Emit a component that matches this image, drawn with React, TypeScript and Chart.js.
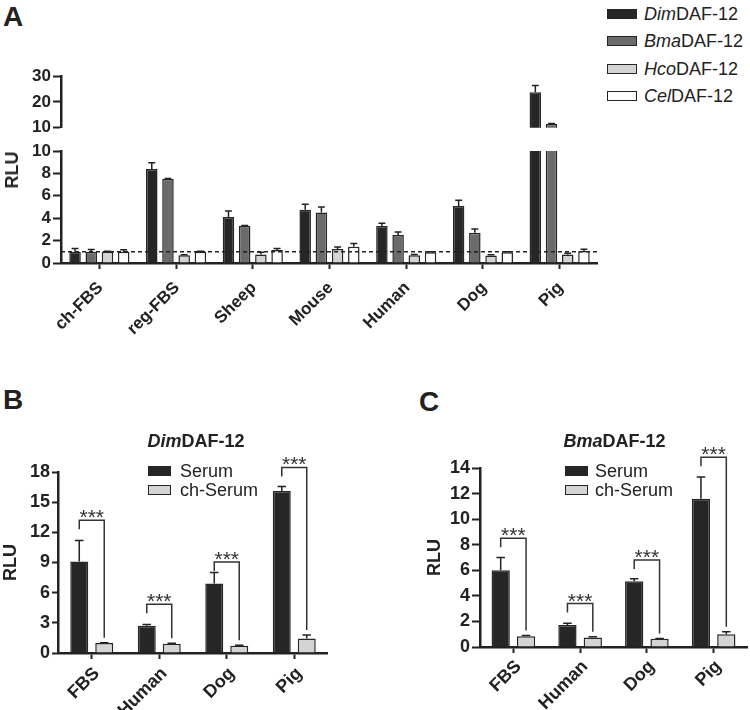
import React, { useEffect, useRef } from 'react';
import { Chart, registerables } from 'chart.js';

Chart.register(...registerables);

const FONT = "'Liberation Sans', Arial, Helvetica, sans-serif";
const INK = '#222222';

// ---------- Panel A data ----------
const sourcesA = ['ch-FBS', 'reg-FBS', 'Sheep', 'Mouse', 'Human', 'Dog', 'Pig'];
const receptorsA = ['Dim', 'Bma', 'Hco', 'Cel'];
const dimA = [1.0, 8.4, 4.1, 4.75, 3.3, 5.1, 23.7];
const dimAErr = [0.3, 0.55, 0.55, 0.5, 0.25, 0.5, 2.6];
const bmaA = [1.0, 7.5, 3.3, 4.5, 2.5, 2.7, 11.5];
const bmaAErr = [0.2, 0.05, 0.05, 0.5, 0.27, 0.33, 0.2];
const hcoA = [1.0, 0.7, 0.75, 1.25, 0.7, 0.68, 0.75];
const hcoAErr = [0.05, 0.04, 0.2, 0.18, 0.05, 0.05, 0.12];
const celA = [1.0, 1.0, 1.15, 1.45, 0.96, 0.96, 1.07];
const celAErr = [0.18, 0.04, 0.15, 0.3, 0.04, 0.04, 0.15];
const baselineA = 1;
const axisBreakA = 10;
const upperMaxA = 30;
const ticksALower = [0, 2, 4, 6, 8, 10];
const ticksAUpper = [10, 20, 30];

// ---------- Panels B / C data ----------
const sourcesBC = ['FBS', 'Human', 'Dog', 'Pig'];
const treatmentsBC = ['Serum', 'ch-Serum'];
const dimSerum = [9.1, 2.7, 6.9, 16.1];
const dimSerumErr = [2.1, 0.13, 1.1, 0.45];
const dimCh = [1.0, 0.92, 0.72, 1.45];
const dimChErr = [0.03, 0.05, 0.05, 0.33];
const dimBrackets = [13.2, 4.85, 9.05, 18.45];
const ticksB = [0, 3, 6, 9, 12, 15, 18];
const bmaSerum = [6.0, 1.72, 5.15, 11.6];
const bmaSerumErr = [1.0, 0.14, 0.18, 1.7];
const bmaCh = [0.85, 0.75, 0.65, 1.0];
const bmaChErr = [0.05, 0.05, 0.02, 0.2];
const bmaBrackets = [8.5, 3.4, 6.8, 14.85];
const ticksC = [0, 2, 4, 6, 8, 10, 12, 14];
const sigLabel = '***';

const COLORS = { dim: '#262626', bma: '#6b6b6b', hco: '#d4d4d4', cel: '#ffffff' };

// ---------- plugins ----------
const errorBarPlugin = {
  id: 'errorBars',
  afterDatasetsDraw(chart: any) {
    const ctx = chart.ctx;
    const y = chart.scales.y;
    chart.data.datasets.forEach((ds: any, i: number) => {
      if (!ds.errors) return;
      const meta = chart.getDatasetMeta(i);
      meta.data.forEach((bar: any, j: number) => {
        const v = ds.data[j];
        const e = ds.errors[j];
        if (v == null || e == null || v > y.max) return;
        const top = y.getPixelForValue(v + e);
        const half = Math.min(bar.width * 0.3, 4.25);
        ctx.save();
        ctx.strokeStyle = INK;
        ctx.lineWidth = 1.5;
        ctx.beginPath();
        ctx.moveTo(bar.x, bar.y);
        ctx.lineTo(bar.x, top);
        ctx.moveTo(bar.x - half, top);
        ctx.lineTo(bar.x + half, top);
        ctx.stroke();
        ctx.restore();
      });
    });
  },
};

const refLinePlugin = {
  id: 'refLine',
  afterDatasetsDraw(chart: any, _args: any, opts: any) {
    if (opts == null || opts.value == null) return;
    const ctx = chart.ctx;
    const { left, right } = chart.chartArea;
    const yy = chart.scales.y.getPixelForValue(opts.value);
    ctx.save();
    ctx.strokeStyle = INK;
    ctx.lineWidth = 1.5;
    ctx.setLineDash([4, 3]);
    ctx.beginPath();
    ctx.moveTo(left, yy);
    ctx.lineTo(right, yy);
    ctx.stroke();
    ctx.restore();
  },
};

const bracketPlugin = {
  id: 'sigBrackets',
  afterDraw(chart: any, _args: any, opts: any) {
    if (!opts || !opts.tops) return;
    const ctx = chart.ctx;
    const y = chart.scales.y;
    const m0 = chart.getDatasetMeta(0);
    const m1 = chart.getDatasetMeta(1);
    const d1 = chart.data.datasets[1];
    opts.tops.forEach((t: number, j: number) => {
      const xl = m0.data[j].x;
      const xr = m1.data[j].x;
      const yt = y.getPixelForValue(t);
      const yl = yt + 9;
      const yr = y.getPixelForValue(d1.data[j] + (d1.errors ? d1.errors[j] : 0)) - 5;
      ctx.save();
      ctx.strokeStyle = '#333';
      ctx.lineWidth = 1.5;
      ctx.beginPath();
      ctx.moveTo(xl, yl);
      ctx.lineTo(xl, yt);
      ctx.lineTo(xr, yt);
      ctx.lineTo(xr, yr);
      ctx.stroke();
      ctx.fillStyle = '#333';
      ctx.font = `21px ${FONT}`;
      ctx.textAlign = 'center';
      ctx.textBaseline = 'alphabetic';
      ctx.fillText(opts.label, (xl + xr) / 2, yt + 4);
      ctx.restore();
    });
  },
};

// ---------- helpers ----------
function yScale(min: number, max: number, tickValues: number[], width: number, tickLen: number, fontSize: number, title?: any) {
  return {
    min,
    max,
    afterBuildTicks: (s: any) => {
      s.ticks = tickValues.map((v) => ({ value: v }));
    },
    ticks: { autoSkip: false, color: INK, padding: 2, font: { family: FONT, size: fontSize, weight: 'bold' } },
    grid: { display: true, drawOnChartArea: false, drawTicks: true, tickLength: tickLen, tickWidth: 2, tickColor: INK },
    border: { display: true, width: 2.5, color: INK },
    title: title || { display: false },
    afterFit: (s: any) => {
      s.width = width;
    },
  };
}

function xScale(height: number, fontSize: number, pad: number, labelOffset: number, display = true) {
  return {
    display,
    offset: true,
    ticks: {
      color: INK,
      padding: pad,
      labelOffset,
      autoSkip: false,
      minRotation: 45,
      maxRotation: 45,
      font: { family: FONT, size: fontSize, weight: 'bold' },
    },
    grid: { display: true, offset: false, drawOnChartArea: false, drawTicks: true, tickLength: 6, tickWidth: 2, tickColor: INK },
    border: { display: true, width: 2.5, color: INK },
    afterFit: (s: any) => {
      s.height = height;
    },
  };
}

function barDs(label: string, data: (number | null)[], errors: number[], color: string, catPct: number, barPct: number) {
  return {
    label,
    data,
    errors,
    backgroundColor: color,
    borderColor: '#262626',
    borderWidth: 1.5,
    categoryPercentage: catPct,
    barPercentage: barPct,
  } as any;
}

const baseOpts = (padding: any) => ({
  responsive: false,
  animation: false as const,
  events: [] as any[],
  layout: { padding },
});

function Text(props: { x: number; y: number; size: number; bold?: boolean; center?: boolean; rotate?: boolean; children: any }) {
  const { x, y, size, bold, center, rotate, children } = props;
  let transform: string | undefined;
  if (rotate) transform = 'translate(-50%, -50%) rotate(-90deg)';
  else if (center) transform = 'translateX(-50%)';
  return (
    <div
      style={{
        position: 'absolute',
        left: x,
        top: rotate ? y : y - 0.488 * size,
        fontFamily: FONT,
        fontSize: size,
        fontWeight: bold ? 'bold' : 'normal',
        lineHeight: 1,
        whiteSpace: 'nowrap',
        color: INK,
        transform,
      }}
    >
      {children}
    </div>
  );
}

function LegendRow(props: { x: number; y: number; w: number; color: string; textX: number; children: any }) {
  const { x, y, w, color, textX, children } = props;
  return (
    <>
      <div
        style={{
          position: 'absolute',
          left: x,
          top: y - 5,
          width: w,
          height: 10,
          boxSizing: 'border-box',
          border: '1.5px solid #262626',
          background: color,
        }}
      />
      <Text x={textX} y={y} size={18}>
        {children}
      </Text>
    </>
  );
}

export default function App() {
  const aUp = useRef<HTMLCanvasElement>(null);
  const aLow = useRef<HTMLCanvasElement>(null);
  const bRef = useRef<HTMLCanvasElement>(null);
  const cRef = useRef<HTMLCanvasElement>(null);

  useEffect(() => {
    Chart.defaults.font.family = FONT;
    const charts: Chart[] = [];
    const colorsA = [COLORS.dim, COLORS.bma, COLORS.hco, COLORS.cel];
    const valsA = [dimA, bmaA, hcoA, celA];
    const errsA = [dimAErr, bmaAErr, hcoAErr, celAErr];
    const catA = 0.845;
    const barA = 0.71;
    const noLegend = { legend: { display: false }, tooltip: { enabled: false } };

    // Panel A upper (broken axis part)
    charts.push(
      new Chart(aUp.current!, {
        type: 'bar',
        data: {
          labels: sourcesA,
          datasets: receptorsA.map((r, i) =>
            barDs(r + 'DAF-12', valsA[i].map((v) => (v > axisBreakA ? v : null)), errsA[i], colorsA[i], catA, barA)
          ),
        },
        options: {
          ...baseOpts({ top: 16, bottom: 11, left: 0, right: 0 }),
          plugins: noLegend,
          scales: {
            x: xScale(0, 17, 2, 0, false),
            y: yScale(axisBreakA, upperMaxA, ticksAUpper, 61, 8, 17),
          },
        } as any,
        plugins: [errorBarPlugin],
      })
    );

    // Panel A lower
    charts.push(
      new Chart(aLow.current!, {
        type: 'bar',
        data: {
          labels: sourcesA,
          datasets: receptorsA.map((r, i) => barDs(r + 'DAF-12', valsA[i], errsA[i], colorsA[i], catA, barA)),
        },
        options: {
          ...baseOpts({ top: 13, bottom: 0, left: 0, right: 0 }),
          plugins: { ...noLegend, refLine: { value: baselineA } },
          scales: {
            x: xScale(80, 17, 9, 1),
            y: yScale(0, axisBreakA, ticksALower, 61, 8, 17),
          },
        } as any,
        plugins: [errorBarPlugin, refLinePlugin],
      })
    );

    const titleY = { display: true, text: 'RLU', color: INK, padding: 0, font: { family: FONT, size: 18, weight: 'bold' } };

    // Panel B
    charts.push(
      new Chart(bRef.current!, {
        type: 'bar',
        data: {
          labels: sourcesBC,
          datasets: [
            barDs(treatmentsBC[0], dimSerum, dimSerumErr, COLORS.dim, 0.74, 0.72),
            barDs(treatmentsBC[1], dimCh, dimChErr, COLORS.hco, 0.74, 0.72),
          ],
        },
        options: {
          ...baseOpts({ top: 32, bottom: 0, left: 0, right: 0 }),
          plugins: { ...noLegend, sigBrackets: { tops: dimBrackets, label: sigLabel } },
          scales: {
            x: xScale(57, 18, 4, 5),
            y: yScale(0, 18, ticksB, 58, 6, 18, titleY),
          },
        } as any,
        plugins: [errorBarPlugin, bracketPlugin],
      })
    );

    // Panel C
    charts.push(
      new Chart(cRef.current!, {
        type: 'bar',
        data: {
          labels: sourcesBC,
          datasets: [
            barDs(treatmentsBC[0], bmaSerum, bmaSerumErr, COLORS.dim, 0.76, 0.72),
            barDs(treatmentsBC[1], bmaCh, bmaChErr, COLORS.hco, 0.76, 0.72),
          ],
        },
        options: {
          ...baseOpts({ top: 28, bottom: 0, left: 4, right: 3 }),
          plugins: { ...noLegend, sigBrackets: { tops: bmaBrackets, label: sigLabel } },
          scales: {
            x: xScale(63, 18, 3, 5),
            y: yScale(0, 14, ticksC, 56, 8, 18, titleY),
          },
        } as any,
        plugins: [errorBarPlugin, bracketPlugin],
      })
    );

    return () => charts.forEach((c) => c.destroy());
  }, []);

  const legendColorsA = [COLORS.dim, COLORS.bma, COLORS.hco, COLORS.cel];

  return (
    <div style={{ position: 'absolute', left: 0, top: 0, width: 750, height: 710, background: '#fff', overflow: 'hidden' }}>
      <canvas ref={aUp} width={598} height={80} style={{ position: 'absolute', left: 0, top: 60, width: 598, height: 80 }} />
      <canvas ref={aLow} width={598} height={205} style={{ position: 'absolute', left: 0, top: 138, width: 598, height: 205 }} />
      <canvas ref={bRef} width={328} height={270} style={{ position: 'absolute', left: 0, top: 440, width: 328, height: 270 }} />
      <canvas ref={cRef} width={330} height={270} style={{ position: 'absolute', left: 420, top: 440, width: 330, height: 270 }} />

      <Text x={3} y={17} size={28} bold>A</Text>
      <Text x={3} y={400} size={28} bold>B</Text>
      <Text x={419} y={402} size={28} bold>C</Text>

      <Text x={11.5} y={170} size={18} bold rotate>RLU</Text>

      {receptorsA.map((r, i) => (
        <LegendRow key={r} x={607} y={13.5 + 27.5 * i} w={30} color={legendColorsA[i]} textX={644}>
          <i>{r}</i>DAF-12
        </LegendRow>
      ))}

      <Text x={196} y={441} size={18} bold center>
        <i>{receptorsA[0]}</i>DAF-12
      </Text>
      <LegendRow x={148} y={471} w={23} color={COLORS.dim} textX={180}>{treatmentsBC[0]}</LegendRow>
      <LegendRow x={148} y={490} w={23} color={COLORS.hco} textX={180}>{treatmentsBC[1]}</LegendRow>

      <Text x={614.5} y={441} size={18} bold center>
        <i>{receptorsA[1]}</i>DAF-12
      </Text>
      <LegendRow x={565} y={471} w={23} color={COLORS.dim} textX={595}>{treatmentsBC[0]}</LegendRow>
      <LegendRow x={565} y={490} w={23} color={COLORS.hco} textX={595}>{treatmentsBC[1]}</LegendRow>
    </div>
  );
}
